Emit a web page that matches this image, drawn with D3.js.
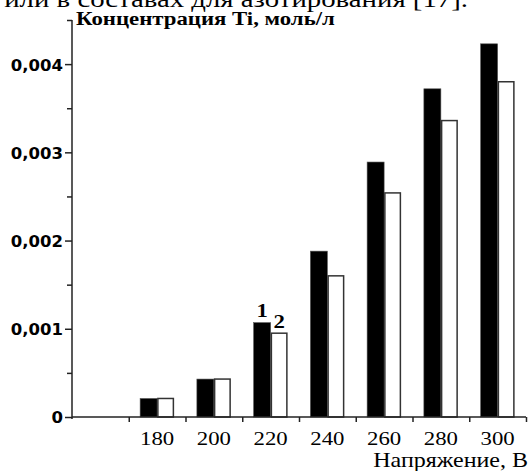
<!DOCTYPE html>
<html><head><meta charset="utf-8">
<script src="https://cdn.jsdelivr.net/npm/d3@7"></script>
<style>html,body{margin:0;padding:0;background:#fff;overflow:hidden}</style>
</head><body>
<svg id="c" width="529" height="471"></svg>
<script>
const categories = [180, 200, 220, 240, 260, 280, 300];
const series1 = [0.00021, 0.00043, 0.00107, 0.00188, 0.00289, 0.00372, 0.00423];
const series2 = [0.00021, 0.00043, 0.00095, 0.00160, 0.00254, 0.00336, 0.00380];
const yTickValues = [0, 0.001, 0.002, 0.003, 0.004];
const yTickLabels = ["0", "0,001", "0,002", "0,003", "0,004"];
const xBoundaries = [170, 190, 210, 230, 250, 270, 290, 310];
const seriesMarks = ["1", "2"];
const yTitle = "Концентрация Ti, моль/л";
const xTitle = "Напряжение, В";
const topText = "или в составах для азотирования [17].";

const svg = d3.select("#c");
const x = d3.scaleLinear().domain([150, 310]).range([72, 526]);
const y = d3.scaleLinear().domain([0, 0.0045]).range([417, 20]);
const serif = "'Liberation Serif', 'Times New Roman', serif";
const sx = 1.2;

function stext(px, py, str, size, weight, anchor) {
  return svg.append("text")
    .attr("transform", `translate(${px},${py}) scale(${sx},1)`)
    .attr("font-family", serif).attr("font-size", size)
    .attr("font-weight", weight).attr("text-anchor", anchor)
    .attr("fill", "#000").text(str);
}

// bars
const bw = 17;
const g = svg.append("g");
g.selectAll("rect.b1").data(categories).join("rect")
  .attr("x", (d) => x(d) - bw).attr("width", bw)
  .attr("y", (d, i) => y(series1[i])).attr("height", (d, i) => y(0) - y(series1[i]))
  .attr("fill", "#000").attr("stroke", "#555").attr("stroke-width", 0.6);
g.selectAll("rect.b2").data(categories).join("rect")
  .attr("x", (d) => x(d) + 0.75).attr("width", bw - 1.5)
  .attr("y", (d, i) => y(series2[i])).attr("height", (d, i) => y(0) - y(series2[i]))
  .attr("fill", "#fff").attr("stroke", "#333").attr("stroke-width", 1.5);

// y axis
const yAxis = d3.axisLeft(y).tickValues(yTickValues).tickSize(7)
  .tickFormat((d, i) => yTickLabels[i]);
const ya = svg.append("g").attr("transform", "translate(72,0)").call(yAxis);
ya.select(".domain").remove();
ya.selectAll("line").attr("stroke", "#222").attr("stroke-width", 1.5);
ya.selectAll("text").attr("font-family", "'DejaVu Sans', sans-serif")
  .attr("font-weight", "bold").attr("font-size", 16.5).attr("fill", "#000")
  .attr("x", -9).attr("dy", "0.36em");
const minor = d3.range(0.0005, 0.0046, 0.001);
const ym = d3.axisLeft(y).tickValues(minor).tickSize(5).tickFormat("");
const yma = svg.append("g").attr("transform", "translate(72,0)").call(ym);
yma.select(".domain").remove();
yma.selectAll("line").attr("stroke", "#222").attr("stroke-width", 1.5);
svg.append("line").attr("x1", 72).attr("x2", 72).attr("y1", y(0.0045)).attr("y2", y(0) + 2)
  .attr("stroke", "#222").attr("stroke-width", 1.5);

// x axis
const xAxis = d3.axisBottom(x).tickValues(xBoundaries).tickSize(5).tickFormat("");
const xa = svg.append("g").attr("transform", `translate(0,${y(0)})`).call(xAxis);
xa.select(".domain").remove();
xa.selectAll("line").attr("stroke", "#222").attr("stroke-width", 1.5);
svg.append("line").attr("x1", 72).attr("x2", x(310)).attr("y1", y(0)).attr("y2", y(0))
  .attr("stroke", "#222").attr("stroke-width", 1.5);

categories.forEach((c) => stext(x(c), 444.5, String(c), 19, "normal", "middle"));

// series marks
stext(x(220) - bw / 2, y(series1[2]) - 6, seriesMarks[0], 19, "bold", "middle");
stext(x(220) + bw / 2, y(series2[2]) - 5, seriesMarks[1], 19, "bold", "middle");

// titles
stext(76, 25, yTitle, 19, "bold", "start");
stext(528, 466.5, xTitle, 20, "normal", "end");
stext(468, 7, topText, 24, "normal", "end");
</script>
</body></html>
